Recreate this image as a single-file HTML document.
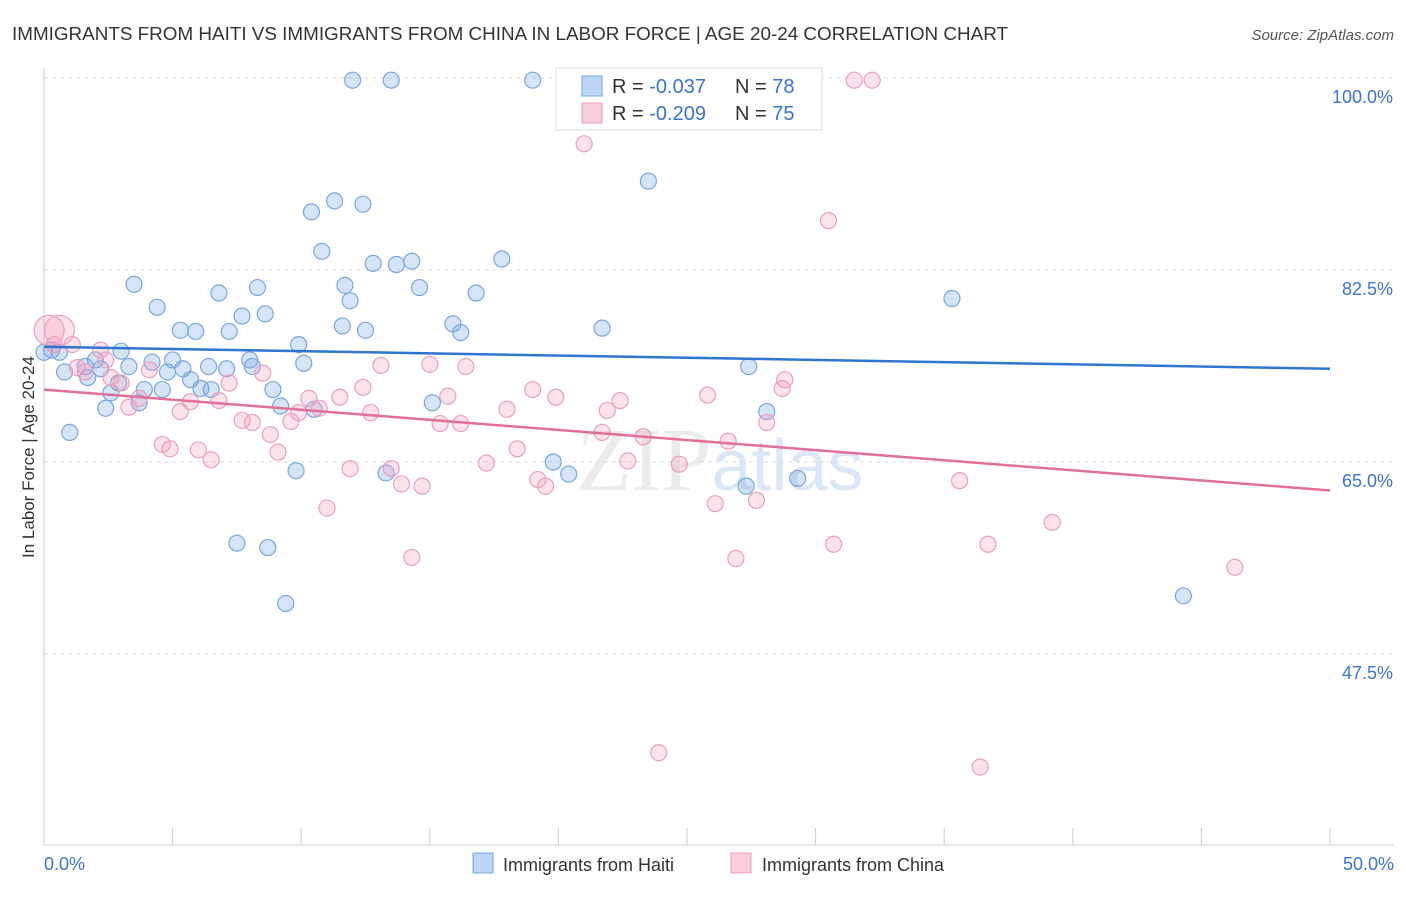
<!DOCTYPE html>
<html><head><meta charset="utf-8"><style>
body{margin:0;background:#fff;font-family:"Liberation Sans",sans-serif}
</style></head><body>
<svg id="c" width="1406" height="892" xmlns="http://www.w3.org/2000/svg" style="font-family:'Liberation Sans',sans-serif">
<text x="12" y="40" font-size="18" textLength="996" lengthAdjust="spacingAndGlyphs" fill="#333">IMMIGRANTS FROM HAITI VS IMMIGRANTS FROM CHINA IN LABOR FORCE | AGE 20-24 CORRELATION CHART</text>
<text x="1394" y="40" font-size="15" fill="#555" font-style="italic" text-anchor="end">Source: ZipAtlas.com</text>
<text x="720" y="490" font-size="90" fill="#ebebeb" text-anchor="middle" font-family="Liberation Serif">ZIP<tspan fill="#dbe6f6" font-family="Liberation Sans" font-size="72">atlas</tspan></text>
<g id="grid"></g><g id="axes"></g><g id="pts"></g><g id="trend"></g>
<text transform="translate(34,457) rotate(-90)" font-size="17" fill="#333" text-anchor="middle">In Labor Force | Age 20-24</text>
<g>
<rect x="556" y="68" width="266" height="62" fill="#fff" stroke="#ddd"/>
<rect x="582" y="76" width="20" height="20" fill="#bcd4f5" stroke="#7aa6e0"/>
<rect x="582" y="103" width="20" height="20" fill="#fbcddc" stroke="#eaa0bb"/>
<text x="612" y="93" font-size="20" fill="#333">R = <tspan fill="#3a74d0">-0.037</tspan><tspan x="735">N = </tspan><tspan fill="#3a74d0">78</tspan></text>
<text x="612" y="120" font-size="20" fill="#333">R = <tspan fill="#3a74d0">-0.209</tspan><tspan x="735">N = </tspan><tspan fill="#3a74d0">75</tspan></text>
</g>
<g>
<rect x="473" y="853" width="20" height="20" fill="#bcd4f5" stroke="#7aa6e0"/>
<text x="503" y="871" font-size="18" fill="#333">Immigrants from Haiti</text>
<rect x="731" y="853" width="20" height="20" fill="#fbcddc" stroke="#eaa0bb"/>
<text x="762" y="871" font-size="18" fill="#333">Immigrants from China</text>
</g>
</svg>
<script>
const yTicks=[100,82.5,65,47.5];
const yTickLabels=["100.0%","82.5%","65.0%","47.5%"];
const xTickLabels=["0.0%","50.0%"];
const haitiX=[12.0,13.5,19.0,23.5,11.3,10.4,12.4,10.8,12.8,13.7,14.3,17.8,3.5,8.3,6.8,11.7,14.6,16.8,11.9,4.4,7.7,8.6,35.3,11.6,12.5,15.9,16.2,21.7,5.3,5.9,7.2,9.9,3.0,0.3,0.6,0.0,4.2,5.0,2.0,6.4,8.0,10.1,0.8,1.6,2.2,3.3,4.8,5.4,7.1,8.1,27.4,1.7,5.7,2.9,3.9,4.6,6.1,6.5,8.9,2.6,3.7,2.4,9.2,10.5,15.1,28.1,1.0,9.8,13.3,19.8,20.4,27.3,29.3,7.5,8.7,9.4,44.3];
const haitiY=[99.8,99.8,99.8,90.6,88.8,87.8,88.5,84.2,83.1,83.0,83.3,83.5,81.2,80.9,80.4,81.1,80.9,80.4,79.7,79.1,78.3,78.5,79.9,77.4,77.0,77.6,76.8,77.2,77.0,76.9,76.9,75.7,75.1,75.2,75.0,75.0,74.1,74.3,74.3,73.7,74.3,74.0,73.2,73.7,73.5,73.7,73.2,73.5,73.5,73.7,73.7,72.7,72.5,72.2,71.6,71.6,71.7,71.6,71.6,71.3,70.4,69.9,70.1,69.8,70.4,69.6,67.7,64.2,64.0,65.0,63.9,62.8,63.5,57.6,57.2,52.1,52.8];
const chinaX=[31.5,32.2,21.0,30.5,0.2,0.6,0.4,1.1,2.2,2.4,1.3,1.6,4.1,8.5,13.1,15.0,16.4,2.6,3.0,7.2,12.4,19.0,28.8,28.7,25.8,22.4,19.9,3.7,3.3,5.7,6.8,10.3,10.7,11.5,9.9,5.3,12.7,15.7,18.0,21.9,28.1,7.7,8.1,9.6,15.4,16.2,8.8,21.7,23.3,26.6,4.6,4.9,6.0,9.1,18.4,6.5,17.2,11.9,13.5,22.7,24.7,19.2,19.5,13.9,14.7,35.6,26.1,27.7,11.0,39.2,30.7,36.7,14.3,26.9,46.3,23.9,36.4];
const chinaY=[99.8,99.8,94.0,87.0,77.0,77.0,75.7,75.7,75.2,74.3,73.6,73.2,73.4,73.1,73.8,73.9,73.7,72.7,72.2,72.2,71.8,71.6,72.5,71.7,71.1,70.6,70.9,70.8,70.0,70.5,70.6,70.8,69.9,70.9,69.5,69.6,69.5,71.0,69.8,69.7,68.6,68.8,68.6,68.7,68.5,68.5,67.5,67.7,67.3,66.9,66.6,66.2,66.1,65.9,66.2,65.2,64.9,64.4,64.4,65.1,64.8,63.4,62.8,63.0,62.8,63.3,61.2,61.5,60.8,59.5,57.5,57.5,56.3,56.2,55.4,38.5,37.2];
const chinaBig=[4,5];
const haitiTrend=[75.5,73.5];
const chinaTrend=[71.6,62.4];
const NS="http://www.w3.org/2000/svg";
const X=v=>44+v*25.72, Y=v=>78+(100-v)*10.971;
function mk(t,a,p){const e=document.createElementNS(NS,t);for(const k in a)e.setAttribute(k,a[k]);p.appendChild(e);return e;}
const g=document.getElementById('grid'),ax=document.getElementById('axes'),pts=document.getElementById('pts'),tr=document.getElementById('trend');
yTicks.forEach((v,i)=>{
 const l=mk('line',{x1:44,x2:1394,y1:Y(v),y2:Y(v),stroke:'#ddd','stroke-dasharray':'4,4'},g);
 
 
 const t=mk('text',{x:1393,y:Y(v)+25,'font-size':18,fill:'#3a74d0','text-anchor':'end'},ax);t.textContent=yTickLabels[i];
 
 
});
mk('line',{x1:44,x2:44,y1:68,y2:845,stroke:'#ccc'},ax);
mk('line',{x1:44,x2:1394,y1:845,y2:845,stroke:'#ccc'},ax);
for(let i=0;i<=10;i++){const t=mk('line',{x1:X(i*5),x2:X(i*5),y1:828,y2:845,stroke:'#ccc'},ax);
 
 }
[[0,'start',44],[50,'end',1394]].forEach((d,i)=>{const t=mk('text',{x:d[2],y:870,'font-size':18,fill:'#3a74d0','text-anchor':d[1]},ax);t.textContent=xTickLabels[i];
 
 });
haitiX.forEach((x,i)=>{const c=mk('circle',{cx:X(x),cy:Y(haitiY[i]),r:8,fill:'rgba(120,165,230,0.3)',stroke:'#7aa6e0','stroke-width':1.2},pts);
 
 });
chinaX.forEach((x,i)=>{const c=mk('circle',{cx:X(x),cy:Y(chinaY[i]),r:chinaBig.includes(i)?15:8,fill:'rgba(245,160,190,0.3)',stroke:'#eaa0bb','stroke-width':1.2},pts);
 
 });
const l1=mk('line',{x1:X(0),x2:X(50),y1:Y(haitiTrend[0]),y2:Y(haitiTrend[1]),stroke:'#2f74d0','stroke-width':2.5},tr);


const l2=mk('line',{x1:X(0),x2:X(50),y1:Y(chinaTrend[0]),y2:Y(chinaTrend[1]),stroke:'#e0709a','stroke-width':2.5},tr);


</script>
</body></html>
